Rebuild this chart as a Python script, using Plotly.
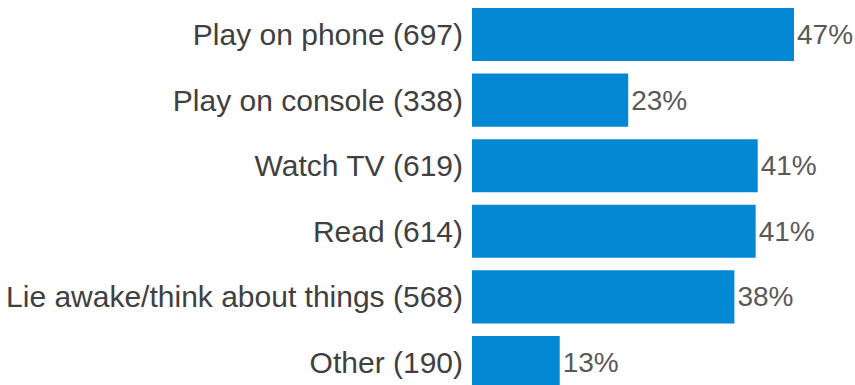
import plotly.graph_objects as go

# Kategorien und Werte (Anteil in %)
categories = [
    "Play on phone (697)",
    "Play on console (338)",
    "Watch TV (619)",
    "Read (614)",
    "Lie awake/think about things (568)",
    "Other (190)",
]
values = [47.0, 22.8, 41.7, 41.4, 38.3, 12.8]
value_labels = ["47%", "23%", "41%", "41%", "38%", "13%"]

fig = go.Figure()

fig.add_trace(go.Bar(
    x=values,
    y=categories,
    orientation="h",
    marker=dict(color="#0588D3", line=dict(width=0)),
    text=value_labels,
    textposition="outside",
    textfont=dict(family="Liberation Sans, Arial", size=28, color="#595959"),
    cliponaxis=False,
    hoverinfo="skip",
))

fig.update_layout(
    width=855,
    height=385,
    margin=dict(l=472, r=0, t=0, b=0),
    bargap=0.19,
    plot_bgcolor="white",
    paper_bgcolor="white",
    showlegend=False,
    xaxis=dict(
        range=[0, 55.9],
        visible=False,
        showgrid=False,
        zeroline=False,
    ),
    yaxis=dict(
        categoryorder="array",
        categoryarray=categories,
        range=[5.343, -0.526],
        showgrid=False,
        zeroline=False,
        showline=False,
        ticks="",
        ticklabelstandoff=8,
        tickfont=dict(family="Liberation Sans, Arial", size=30, color="#404040"),
    ),
)

# Body-Rand des Browsers entfernen, damit die Grafik bei (0,0) beginnt
fig.write_html(
    "out.html",
    config={"displayModeBar": False},
    post_script="document.body.style.margin='0';",
)
